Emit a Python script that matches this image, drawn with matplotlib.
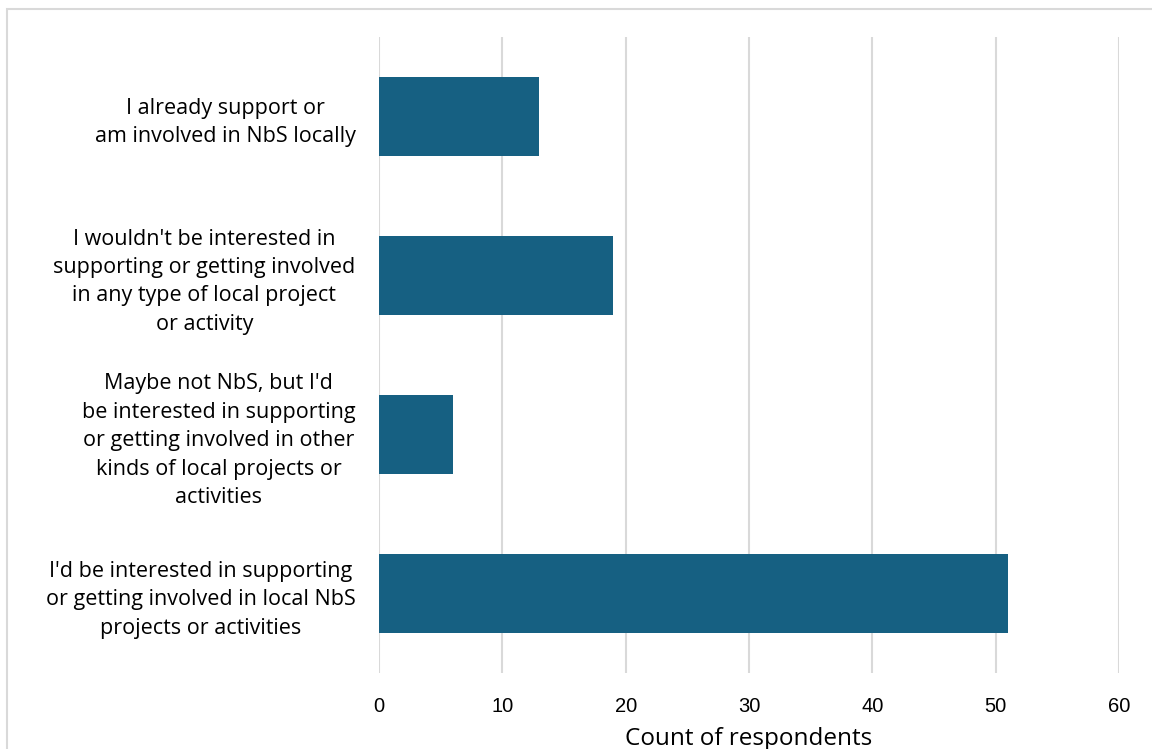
import matplotlib.pyplot as plt
from matplotlib.patches import Rectangle

# survey responses, listed top to bottom as shown
labels = [
    "I already support or\nam involved in NbS locally",
    "I wouldn't be interested in\nsupporting or getting involved\nin any type of local project\nor activity",
    "Maybe not NbS, but I'd\nbe interested in supporting\nor getting involved in other\nkinds of local projects or\nactivities",
    "I'd be interested in supporting\nor getting involved in local NbS\nprojects or activities",
]
counts = [13, 19, 6, 51]
xticks = [0, 10, 20, 30, 40, 50, 60]

bar_color = '#166082'
grid_color = '#d9d9d9'

fig = plt.figure(figsize=(11.52, 7.49), dpi=100)
ax = fig.add_axes([379/1152, 1 - 673/749, 740/1152, 636/749])

pos = list(range(len(labels)))
ax.barh(pos, counts, height=0.5, color=bar_color, zorder=3)
ax.set_ylim(len(labels) - 0.5, -0.5)
ax.set_xlim(0, 60)
ax.set_xticks(xticks)
ax.set_xticklabels([str(t) for t in xticks], fontfamily='Liberation Sans', fontsize=14.5)
ax.set_yticks(pos)
ax.set_yticklabels(labels, fontfamily='Open Sans', fontsize=15.5, linespacing=1.46)
for lab in ax.get_yticklabels():
    lab.set_multialignment('center')

ax.grid(axis='x', color=grid_color, linewidth=1.5, zorder=0)
ax.tick_params(axis='both', length=0)
ax.tick_params(axis='x', pad=17)
ax.tick_params(axis='y', pad=17)
for s in ax.spines.values():
    s.set_visible(False)

ax.set_xlabel('Count of respondents', fontfamily='Open Sans', fontsize=17.5, labelpad=8)

# thin frame around the chart area
fig.patches.append(Rectangle((7/1152, -0.1), 1.2, 1.1 - 9/749, transform=fig.transFigure,
                             fill=False, edgecolor=grid_color, linewidth=1.5))

fig.savefig('out.png', dpi=100)
